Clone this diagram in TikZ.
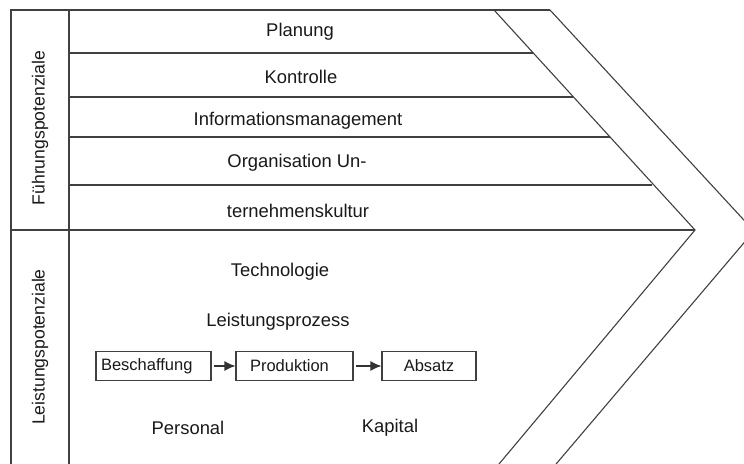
\documentclass[tikz,border=0pt]{standalone}
\usepackage{fontspec}
\setmainfont{Liberation Sans}
\usetikzlibrary{arrows.meta}

\tikzset{
  rahmen/.style={line width=1.1pt, draw=black!75},
  txt/.style={font=\fontsize{18.4}{21}\selectfont, text=black!90, inner sep=0pt},
  seite/.style={font=\fontsize{17.6}{20}\selectfont, text=black!90, inner sep=0pt, rotate=90},
  kasten/.style={draw=black!75, line width=1.1pt, font=\fontsize{16.5}{19}\selectfont,
    text=black!90, minimum height=29pt, inner sep=0pt},
  pfeil/.style={-{Latex[length=11pt,width=10pt]}, line width=1.2pt, draw=black!80, shorten <=2pt},
}

\begin{document}
\begin{tikzpicture}[x=1pt, y=-1pt]
    \useasboundingbox (0,0) rectangle (744,463);
    \clip (0,0) rectangle (744,463);
    % Rahmen links
    \draw [rahmen]   (11,470) -- (11,10) -- (550,10);
    \draw [rahmen]   (69,470) -- (69,10);
    \draw [rahmen]   (11,230) -- (695,230);
    % Pfeilform
    \draw [rahmen]   (494,10) -- (695,230) -- (494,470);
    \draw [rahmen]   (550,10) -- (754,231) -- (551,470);
    % Fuehrung
    \draw [rahmen]   (69,53) -- (533,53);
    \draw [rahmen]   (69,97) -- (573,97);
    \draw [rahmen]   (69,137) -- (610,137);
    \draw [rahmen]   (69,185) -- (652,185);
    \node [txt] (plan)  at (300,32)  {Planung};
    \node [txt] (kontr) at (301,77)  {Kontrolle};
    \node [txt] (info)  at (298,121) {Informationsmanagement};
    \node [txt] (org)   at (297,163) {Organisation Un-};
    \node [txt] (kult)  at (298,211) {ternehmenskultur};
    \node [seite] (fp)  at (40,128)  {Führungspotenziale};
    % Leistung
    \node [seite] (lp)  at (40,347)  {Leistungspotenziale};
    \node [txt] (techn) at (280,272) {Technologie};
    \node [txt] (lproz) at (278,322) {Leistungsprozess};
    \node [kasten] (besch) at (153.5,366) {\hbox to 115pt{\hspace{5pt}Beschaffung\hfil}};
    \node [kasten] (prod)  at (294.5,366) {\hbox to 117pt{\hspace{14pt}Produktion\hfil}};
    \node [kasten, minimum width=94pt] (abs) at (429,366) {Absatz};
    \draw [pfeil]    (besch) -- (prod);
    \draw [pfeil]    (prod) -- (abs);
    \node [txt] (pers)  at (188,428) {Personal};
    \node [txt] (kap)   at (390,428) {Kapital};
\end{tikzpicture}
\end{document}
